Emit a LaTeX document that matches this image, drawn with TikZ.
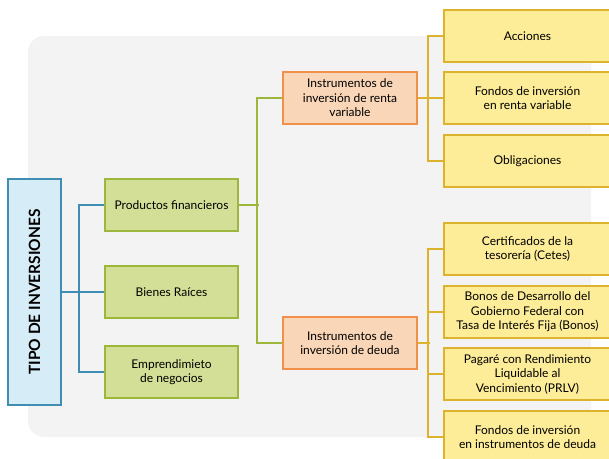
\documentclass[tikz,border=0pt]{standalone}
\usepackage{fontspec}
\setmainfont{Lato}
\usetikzlibrary{positioning}
\definecolor{bgray}{HTML}{F3F3F3}
\definecolor{rootfill}{HTML}{D6ECF6}
\definecolor{rootline}{HTML}{3F8DB3}
\definecolor{catfill}{HTML}{D3DE96}
\definecolor{catline}{HTML}{9DB63C}
\definecolor{subfill}{HTML}{F9D6B7}
\definecolor{subline}{HTML}{F0904A}
\definecolor{leaffill}{HTML}{FDEC98}
\definecolor{leafline}{HTML}{DDB22C}
\tikzset{
  box/.style={draw,line width=1.4pt,inner sep=0pt,align=center,
    font=\fontsize{12}{14.5}\selectfont},
  rootbox/.style={box,fill=rootfill,draw=rootline,minimum width=53pt,minimum height=226pt},
  catbox/.style={box,fill=catfill,draw=catline,minimum width=133pt,minimum height=52pt},
  subbox/.style={box,fill=subfill,draw=subline,minimum width=134pt,minimum height=52pt},
  leafbox/.style={box,fill=leaffill,draw=leafline,minimum width=167pt,minimum height=52pt},
  link/.style={line width=2.3pt},
}
\begin{document}
\begin{tikzpicture}[x=1pt,y=-1pt]
  \useasboundingbox (0,0) rectangle (609,458);
  \clip (0,0) rectangle (609,458);
  \fill[bgray,rounded corners=16pt] (28,36) rectangle (591,437);
  % boxes
  \node[rootbox] (root) at (34.5,292)
    {\rotatebox{90}{\fontsize{15.5}{15.5}\selectfont\bfseries TIPO DE INVERSIONES}};
  \node[catbox] (prod) at (171.5,205) {Productos financieros};
  \node[catbox] (bien) at (171.5,292) {Bienes Raíces};
  \node[catbox] (emp)  at (171.5,372) {Emprendimieto\\de negocios};
  \node[subbox] (rv)    at (350,98)  {Instrumentos de\\inversión de renta\\variable};
  \node[subbox] (deuda) at (350,343) {Instrumentos de\\inversión de deuda};
  \node[leafbox] (acc)     at (527.5,36)  {Acciones};
  \node[leafbox] (fondrv)  at (527.5,98)  {Fondos de inversión\\en renta variable};
  \node[leafbox] (obl)     at (527.5,161) {Obligaciones};
  \node[leafbox] (cetes)   at (527.5,249) {Certificados de la\\tesorería (Cetes)};
  \node[leafbox] (bonos)   at (527.5,312) {Bonos de Desarrollo del\\Gobierno Federal con\\Tasa de Interés Fija (Bonos)};
  \node[leafbox] (pagare)  at (527.5,374) {Pagaré con Rendimiento\\Liquidable al\\Vencimiento (PRLV)};
  \node[leafbox] (fonddeu) at (527.5,437) {Fondos de inversión\\en instrumentos de deuda};
  % connectors
  \draw[link,draw=rootline] (root.east) -- (bien.west);
  \draw[link,draw=rootline] (prod.west) -- ++(-25,0) |- (emp.west);
  \draw[link,draw=catline]  (prod.east) -- ++(20,0);
  \draw[link,draw=catline]  (rv.west) -- ++(-25,0) |- (deuda.west);
  \draw[link,draw=leafline] (rv.east) -- (fondrv.west);
  \draw[link,draw=leafline] (acc.west) -- ++(-15,0) |- (obl.west);
  \draw[link,draw=leafline] (deuda.east) -- ++(12,0);
  \draw[link,draw=leafline] (cetes.west) -- ++(-15,0) |- (fonddeu.west);
  \draw[link,draw=leafline] (bonos.west) -- ++(-15,0);
  \draw[link,draw=leafline] (pagare.west) -- ++(-15,0);
\end{tikzpicture}
\end{document}
